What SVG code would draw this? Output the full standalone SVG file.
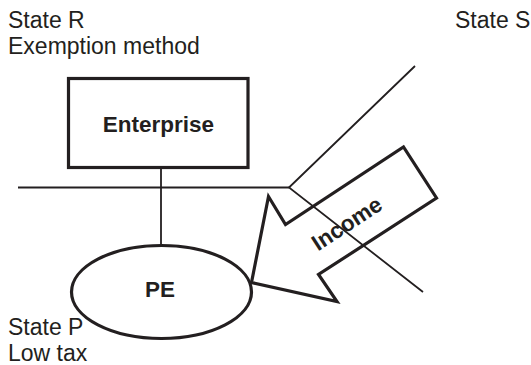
<svg xmlns="http://www.w3.org/2000/svg" width="531" height="365" viewBox="0 0 531 365">
<style>
.lbl{font-family:"Liberation Sans",Arial,sans-serif;font-size:23px;fill:#231f20}
.bold{font-family:"Liberation Sans",Arial,sans-serif;font-size:22.5px;font-weight:bold;fill:#231f20}
.thick{fill:none;stroke:#231f20;stroke-width:3.2;stroke-linejoin:miter}
.thin{fill:none;stroke:#231f20;stroke-width:1.8}
</style>
<rect width="531" height="365" fill="#fff"/>
<g id="labels">
<text class="lbl" x="8" y="27.5">State R</text>
<text class="lbl" x="8" y="54">Exemption method</text>
<text class="lbl" x="455" y="27.5">State S</text>
<text class="lbl" x="8" y="335">State P</text>
<text class="lbl" x="8" y="361">Low tax</text>
</g>
<g id="connectors">
<line class="thin" x1="18" y1="187.5" x2="289" y2="187.5"/>
<line class="thin" x1="161" y1="168" x2="161" y2="246"/>
<polyline class="thin" points="415,66 289,187.5 423,292"/>
</g>
<g id="enterprise">
<rect class="thick" x="68.5" y="78.5" width="179.5" height="89"/>
<text class="bold" x="158.5" y="132" text-anchor="middle">Enterprise</text>
</g>
<g id="pe">
<ellipse class="thick" cx="161.5" cy="292" rx="90" ry="46.5"/>
<text class="bold" x="160" y="297" text-anchor="middle">PE</text>
</g>
<g id="income">
<polygon class="thick" points="251.5,282.5 268.5,196.5 285.5,224.5 403.5,147 436.5,198 318.5,274.5 337,301.5"/>
<text class="bold" transform="translate(351,230) rotate(-33)" text-anchor="middle">Income</text>
</g>
</svg>
